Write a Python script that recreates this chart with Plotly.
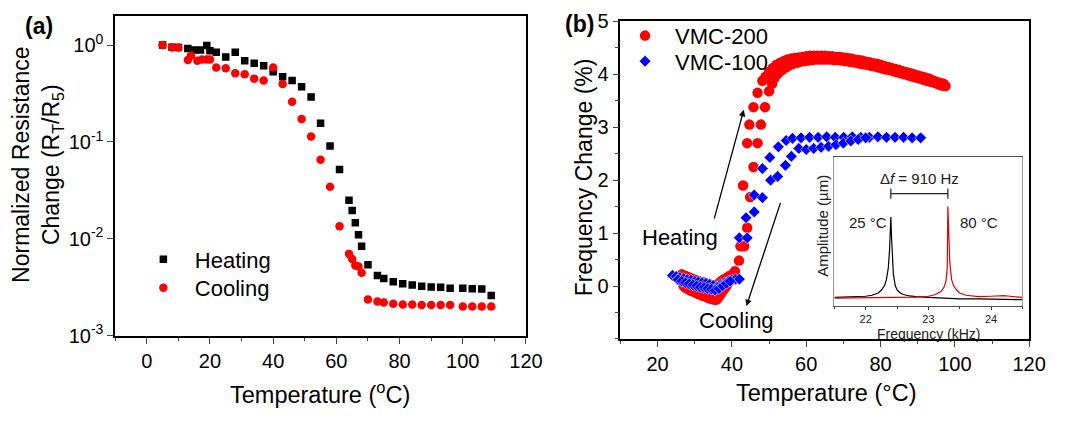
import plotly.graph_objects as go

# ---------------- Panel (a): normalized resistance vs temperature ----------------
heat_temp = [5, 8, 10, 13, 15, 17, 19, 20, 22, 25, 28, 31, 34, 37, 40, 43, 46, 49, 52, 55,
             58, 61, 64, 65, 66, 67, 68, 70, 73, 75, 78, 81, 84, 87, 90, 93, 96, 100, 103, 106, 109]
heat_ratio = [1.0, 0.95, 0.94, 0.92, 0.89, 0.89, 0.99, 0.87, 0.84, 0.75, 0.84, 0.69, 0.65, 0.61,
              0.53, 0.47, 0.43, 0.37, 0.29, 0.156, 0.091, 0.052, 0.025, 0.0196, 0.0147, 0.011,
              0.0084, 0.0054, 0.0042, 0.0039, 0.0036, 0.00345, 0.00335, 0.00325, 0.00318,
              0.00316, 0.0031, 0.0031, 0.00305, 0.00304, 0.0026]

cool_temp = [5, 8, 10, 13, 14, 16, 17.5, 19, 20, 22, 25, 28, 31, 34, 37, 40, 43, 46, 49, 52,
             55, 58, 61, 64, 65, 66, 67, 68, 70, 73, 75, 78, 81, 84, 87, 90, 93, 96, 100, 103, 106, 109]
cool_ratio = [1.0, 0.94, 0.94, 0.70, 0.78, 0.69, 0.71, 0.71, 0.71, 0.585, 0.576, 0.51, 0.50, 0.45,
              0.43, 0.585, 0.395, 0.26, 0.172, 0.114, 0.0655, 0.0345, 0.0135, 0.0070, 0.0062,
              0.0053, 0.0052, 0.00446, 0.00237, 0.00226, 0.0022, 0.00214, 0.0021, 0.0021,
              0.00208, 0.00208, 0.00208, 0.00208, 0.0020, 0.0020, 0.0020, 0.0020]

log_tick_vals = [0.001, 0.01, 0.1, 1]
log_tick_text = ["10<sup>-3</sup>", "10<sup>-2</sup>", "10<sup>-1</sup>", "10<sup>0</sup>"]

# ---------------- Panel (b): frequency change vs temperature ----------------
vmc200_temp = [
    # low-temperature dip, heating
    26.5, 27, 27.5, 28, 28.5, 29, 29.5, 30, 30.5, 31, 31.5, 32, 32.5, 33, 33.5, 34, 34.5, 35,
    35.5, 36, 36.5, 37, 37.5, 38, 38.5, 39, 39.5,
    # low-temperature dip, cooling
    27, 27.5, 28, 28.5, 29, 29.5, 30, 30.5, 31, 31.5, 32, 32.5, 33, 33.5, 34, 34.5, 35, 35.5,
    36, 36.5, 37, 37.5, 38, 38.5, 39, 39.5, 40,
    # transition
    40.8, 41.9, 42.3, 43.3, 44.1, 44.9, 43.0, 45.8, 44.1, 46.9, 44.7, 47.8, 45.8, 48.9, 46.9,
    50.0, 48.2, 50.8,
    # plateau, heating
    49, 50, 51, 52, 53, 54, 55, 56, 57, 58, 59, 60, 61, 62, 63, 64, 65, 66, 67, 68, 69, 70,
    71, 72, 73, 74, 75, 76, 77, 78, 79, 80, 81, 82, 83, 84, 85, 86, 87, 88, 89, 90, 91, 92,
    93, 94, 95, 96, 97,
    # plateau, cooling
    51.5, 52.5, 53.5, 54.5, 55.5, 56.5, 57.5, 58.5, 59.5, 60.5, 61.5, 62.5, 63.5, 64.5, 65.5,
    66.5, 67.5, 68.5, 69.5, 70.5, 71.5, 72.5, 73.5, 74.5, 75.5, 76.5, 77.5, 78.5, 79.5, 80.5,
    81.5, 82.5, 83.5, 84.5, 85.5, 86.5, 87.5, 88.5, 89.5, 90.5, 91.5, 92.5, 93.5, 94.5, 95.5,
    96.5, 97.5,
]
vmc200_change = [
    0.22, 0.20, 0.19, 0.17, 0.16, 0.14, 0.13, 0.12, 0.10, 0.09, 0.08, 0.07, 0.06, 0.05, 0.04,
    0.03, 0.02, 0.01, 0.00, 0.02, 0.05, 0.08, 0.11, 0.13, 0.15, 0.17, 0.20,
    0.00, -0.03, -0.05, -0.07, -0.09, -0.10, -0.12, -0.13, -0.15, -0.16, -0.18, -0.19, -0.20,
    -0.22, -0.23, -0.24, -0.25, -0.26, -0.25, -0.20, -0.15, -0.10, -0.05, 0.00, 0.05, 0.10, 0.15,
    0.28, 0.48, 0.75, 0.75, 1.10, 1.68, 1.90, 2.25, 2.70, 2.70, 3.05, 3.05, 3.38, 3.38, 3.65,
    3.68, 3.88, 3.82,
    3.95, 4.05, 4.12, 4.18, 4.22, 4.25, 4.28, 4.30, 4.31, 4.32, 4.33, 4.34, 4.35, 4.35, 4.35,
    4.35, 4.35, 4.34, 4.34, 4.33, 4.33, 4.32, 4.31, 4.30, 4.28, 4.27, 4.26, 4.24, 4.23, 4.21,
    4.20, 4.18, 4.16, 4.14, 4.12, 4.10, 4.08, 4.06, 4.04, 4.02, 4.00, 3.98, 3.96, 3.94, 3.92,
    3.89, 3.86, 3.84, 3.82,
    3.93, 4.02, 4.08, 4.13, 4.17, 4.20, 4.22, 4.24, 4.25, 4.26, 4.27, 4.28, 4.28, 4.28, 4.28,
    4.28, 4.27, 4.27, 4.26, 4.25, 4.24, 4.23, 4.22, 4.20, 4.19, 4.18, 4.16, 4.15, 4.13, 4.11,
    4.09, 4.08, 4.06, 4.04, 4.02, 4.00, 3.98, 3.96, 3.94, 3.92, 3.90, 3.88, 3.86, 3.84, 3.81,
    3.79, 3.78,
]

vmc100_temp = [
    24, 25, 26, 27, 28, 29, 30, 31, 32, 33, 34, 35, 36, 37, 38, 39, 40, 41, 42,
    25.5, 26.5, 27.5, 28.5, 29.5, 30.5, 31.5, 32.5, 33.5, 34.5, 35.5, 36.5, 37.5, 38.5, 39.5,
    42.0, 44.1, 43.8, 46.0, 46.0, 48.2, 48.2, 50.4, 50.2, 52.3, 52.5, 54.4, 54.6, 56.0, 56.3, 58.0,
    58.6, 60.9, 63.2, 65.5, 67.8, 70.1, 72.4, 74.7, 77.0, 79.3, 81.6, 83.9, 86.2, 88.5, 90.8,
    60.0, 62.0, 64.0, 66.0, 68.0, 70.0, 72.0, 74.0, 76.0,
]
vmc100_change = [
    0.20, 0.18, 0.16, 0.14, 0.12, 0.11, 0.09, 0.08, 0.06, 0.05, 0.03, 0.01, -0.01, 0.03, 0.06,
    0.09, 0.11, 0.13, 0.13,
    0.12, 0.09, 0.06, 0.04, 0.02, 0.00, -0.02, -0.03, -0.05, -0.06, -0.08, -0.05, 0.00, 0.05, 0.09,
    0.91, 0.91, 1.29, 1.40, 1.72, 1.67, 2.22, 2.00, 2.43, 2.07, 2.63, 2.28, 2.75, 2.45, 2.79, 2.60,
    2.80, 2.81, 2.81, 2.82, 2.81, 2.81, 2.82, 2.81, 2.81, 2.82, 2.81, 2.81, 2.81, 2.80, 2.80,
    2.58, 2.60, 2.62, 2.64, 2.67, 2.70, 2.74, 2.77, 2.80,
]

# ---------------- Inset: resonance spectra ----------------
spec25_freq = [21.5, 21.8, 22.0, 22.1, 22.2, 22.25, 22.3, 22.33, 22.36, 22.38, 22.39, 22.40,
               22.41, 22.42, 22.44, 22.47, 22.5, 22.55, 22.6, 22.7, 22.8, 23.0, 23.2, 23.5,
               23.8, 24.0, 24.2, 24.5]
spec25_amp = [0.060, 0.062, 0.068, 0.075, 0.090, 0.110, 0.140, 0.180, 0.260, 0.380, 0.480, 0.600,
              0.480, 0.360, 0.220, 0.140, 0.110, 0.090, 0.080, 0.070, 0.065, 0.060, 0.055, 0.050,
              0.050, 0.048, 0.050, 0.045]
spec80_freq = [21.5, 22.0, 22.5, 22.8, 23.0, 23.1, 23.2, 23.25, 23.28, 23.30, 23.31, 23.32,
               23.34, 23.37, 23.4, 23.45, 23.5, 23.6, 23.8, 24.0, 24.2, 24.3, 24.5]
spec80_amp = [0.055, 0.056, 0.058, 0.062, 0.068, 0.078, 0.100, 0.130, 0.170, 0.260, 0.670, 0.500,
              0.300, 0.180, 0.140, 0.110, 0.090, 0.075, 0.065, 0.068, 0.072, 0.068, 0.060]
peak_25C = 22.40
peak_80C = 23.31

FONT = "Liberation Sans, Arial, Helvetica, sans-serif"
W, H = 1068, 421


def px_x(x):
    return x / W


def px_y(y):
    return 1 - y / H


fig = go.Figure()

# panel (a)
fig.add_trace(go.Scatter(x=heat_temp, y=heat_ratio, mode="markers", name="Heating",
                         marker=dict(symbol="square", size=7.5, color="black"),
                         xaxis="x", yaxis="y", legend="legend"))
fig.add_trace(go.Scatter(x=cool_temp, y=cool_ratio, mode="markers", name="Cooling",
                         marker=dict(symbol="circle", size=8.5, color="#ff0000"),
                         xaxis="x", yaxis="y", legend="legend2"))

# panel (b)
fig.add_trace(go.Scatter(x=vmc200_temp, y=vmc200_change, mode="markers", name="VMC-200",
                         marker=dict(symbol="circle", size=10.5, color="#ff0000"),
                         xaxis="x2", yaxis="y2", legend="legend3"))
fig.add_trace(go.Scatter(x=vmc100_temp, y=vmc100_change, mode="markers", name="VMC-100",
                         marker=dict(symbol="diamond", size=9, color="#0000ff",
                                     line=dict(color="white", width=0.6)),
                         xaxis="x2", yaxis="y2", legend="legend4"))

# inset spectra
fig.add_trace(go.Scatter(x=spec25_freq, y=spec25_amp, mode="lines", line=dict(color="black", width=1.2),
                         xaxis="x3", yaxis="y3", showlegend=False))
fig.add_trace(go.Scatter(x=spec80_freq, y=spec80_amp, mode="lines", line=dict(color="#e00000", width=1.2),
                         xaxis="x3", yaxis="y3", showlegend=False))
# frequency-shift bracket between the two resonance peaks
cap = 0.035
fig.add_trace(go.Scatter(
    x=[peak_25C, peak_80C, None, peak_25C, peak_25C, None, peak_80C, peak_80C],
    y=[0.756, 0.756, None, 0.756 - cap, 0.756 + cap, None, 0.756 - cap, 0.756 + cap],
    mode="lines", line=dict(color="#222", width=1.2), xaxis="x3", yaxis="y3", showlegend=False))

axis_common = dict(showline=True, linecolor="black", linewidth=1.5, mirror=True,
                   ticks="outside", tickwidth=1.3, ticklen=6, showgrid=False, zeroline=False,
                   tickfont=dict(family=FONT, size=20, color="black"))


def legend_at(sym_x, center_y, itemwidth):
    # one-entry legend whose symbol sits at the given pixel position
    return dict(x=px_x(sym_x - 23), y=px_y(center_y - 20), xanchor="left", yanchor="top",
                bgcolor="rgba(0,0,0,0)", font=dict(family=FONT, size=22, color="black"),
                itemwidth=itemwidth)


fig.update_layout(
    width=W, height=H, autosize=False,
    margin=dict(l=0, r=0, t=0, b=0),
    paper_bgcolor="white", plot_bgcolor="white",
    font=dict(family=FONT, color="black"),
    xaxis=dict(domain=[px_x(117), px_x(534.5)], range=[-10, 120], anchor="y",
               tick0=0, dtick=20, minor=dict(dtick=10, ticklen=3.5, ticks="outside", tickwidth=1.2),
               **axis_common),
    yaxis=dict(domain=[px_y(342.7), px_y(5)], type="log", range=[-3, 0.302], anchor="x",
               tickvals=log_tick_vals, ticktext=log_tick_text, **axis_common),
    xaxis2=dict(domain=[px_x(630.5), px_x(1045.8)], range=[10, 120], anchor="y2",
                tickvals=[20, 40, 60, 80, 100, 120],
                minor=dict(tickvals=[10, 30, 50, 70, 90, 110], ticklen=3.5, ticks="outside", tickwidth=1.2),
                **axis_common),
    yaxis2=dict(domain=[px_y(346), px_y(11)], range=[-1, 5], anchor="x2",
                tickvals=[0, 1, 2, 3, 4, 5],
                minor=dict(tickvals=[-1, -0.5, 0.5, 1.5, 2.5, 3.5, 4.5], ticklen=3.5, ticks="outside", tickwidth=1.2),
                **axis_common),
    xaxis3=dict(domain=[px_x(847.9), px_x(1039)], range=[21.5, 24.5], anchor="y3",
                showline=True, linecolor="#555", linewidth=1, mirror=True,
                ticks="outside", ticklen=2.5, tickwidth=1, tickcolor="#333",
                tickvals=[22, 23, 24],
                minor=dict(tickvals=[21.5, 22.5, 23.5, 24.5], ticklen=2, ticks="outside", tickcolor="#333"),
                showgrid=False, zeroline=False,
                tickfont=dict(family=FONT, size=11, color="#222")),
    yaxis3=dict(domain=[px_y(311.7), px_y(154.3)], range=[0, 1], anchor="x3",
                showline=True, linecolor="#999", linewidth=1, mirror=True,
                showticklabels=False, ticks="", showgrid=False, zeroline=False),
    legend=legend_at(157, 260, 53),
    legend2=legend_at(157, 290, 53),
    legend3=legend_at(648, 24, 50),
    legend4=legend_at(648, 51, 50),
)

ann = []


def label(text, x, y, size, xref="paper", yref="paper", angle=0, color="black"):
    ann.append(dict(text=text, x=x, y=y, xref=xref, yref=yref, textangle=angle,
                    xanchor="center", yanchor="middle", showarrow=False,
                    font=dict(family=FONT, size=size, color=color)))


# panel labels
label("<b>(a)</b>", px_x(40), px_y(16), 23)
label("<b>(b)</b>", px_x(589), px_y(14), 23)
# axis titles
label("Normalized Resistance<br>Change (R<sub>T</sub>/R<sub>5</sub>)", px_x(38), px_y(162), 23, angle=-90)
label("Temperature (<sup>o</sup>C)", px_x(325), px_y(403), 23.5)
label("Frequency Change (%)", px_x(593), px_y(176), 23, angle=-90)
label("Temperature (°C)", px_x(839), px_y(403), 23.5)
# heating / cooling arrows in panel (b)
ann.append(dict(x=43.2, y=3.33, ax=35.15, ay=1.25, xref="x2", yref="y2", axref="x2", ayref="y2",
                showarrow=True, arrowhead=2, arrowsize=1, arrowwidth=1.3, arrowcolor="black", text=""))
ann.append(dict(x=43.9, y=-0.38, ax=53.2, ay=1.6, xref="x2", yref="y2", axref="x2", ayref="y2",
                showarrow=True, arrowhead=2, arrowsize=1, arrowwidth=1.3, arrowcolor="black", text=""))
label("Heating", 25.9, 0.92, 22, xref="x2", yref="y2")
label("Cooling", 41.2, -0.65, 22, xref="x2", yref="y2")
# inset labels
label("Δ<i>f</i> = 910 Hz", (peak_25C + peak_80C) / 2, 0.86, 15, xref="x3", yref="y3", color="#222")
label("25 °C", 22.03, 0.565, 15, xref="x3", yref="y3", color="#222")
label("80 °C", 23.8, 0.565, 15, xref="x3", yref="y3", color="#222")
label("Frequency (kHz)", 23.0, px_y(340.5), 14, xref="x3", color="#222")
label("Amplitude (µm)", px_x(835), px_y(227), 15, angle=-90, color="#222")

fig.update_layout(annotations=ann)

fig.write_html("out.html")
